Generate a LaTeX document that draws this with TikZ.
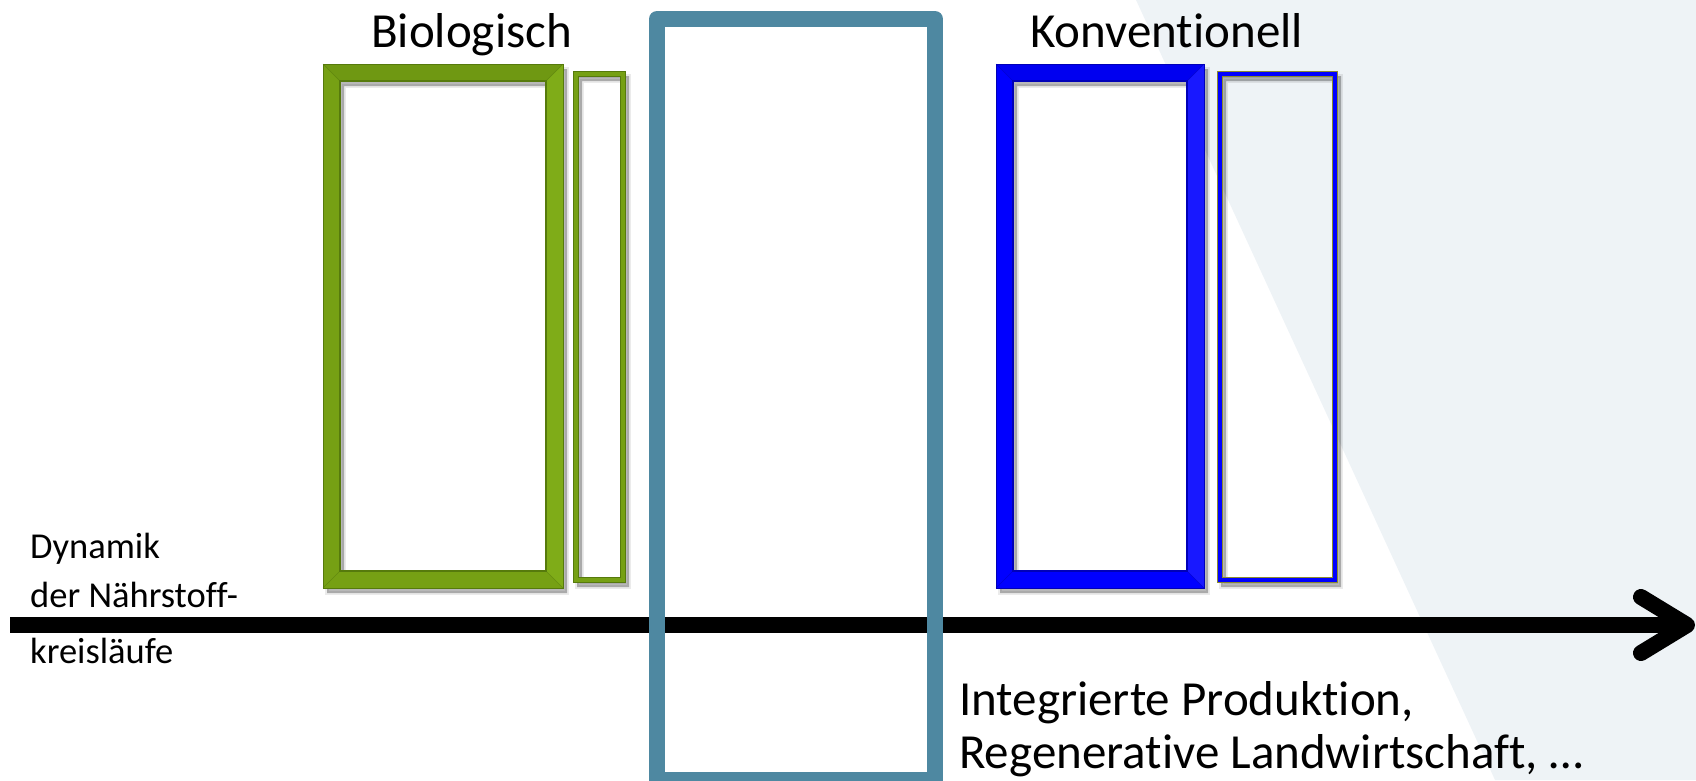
\documentclass[tikz,border=0pt]{standalone}
\usepackage{fontspec}
\setmainfont{Carlito}[Ligatures={NoCommon}]
\definecolor{bgpale}{HTML}{EEF3F6}
\definecolor{leaf}{HTML}{76A014}
\definecolor{leafdark}{HTML}{567A0C}
\definecolor{leaflight}{HTML}{86B41C}
\definecolor{royal}{HTML}{0000FF}
\definecolor{royaldark}{HTML}{0000B8}
\definecolor{royallight}{HTML}{2828FF}
\definecolor{tealframe}{HTML}{4E88A1}
\definecolor{olive}{HTML}{8A8A30}
\tikzset{
  x=1pt, y=-1pt,
  title/.style={anchor=base west, inner sep=0pt, font=\fontsize{49}{56}\selectfont},
  bottomtext/.style={anchor=base west, inner sep=0pt, font=\fontsize{49}{56}\selectfont},
  sidetext/.style={anchor=base west, inner sep=0pt, font=\fontsize{36.5}{42}\selectfont},
  shadowring/.style={fill=black, opacity=0.28, even odd rule},
  axis/.style={line width=16pt, black},
}
\begin{document}
\begin{tikzpicture}
\useasboundingbox (0,0) rectangle (1696,780);
\clip (0,0) rectangle (1696,780);
% pale background wedge
\fill[bgpale] (1136,0) -- (1696,0) -- (1696,780) -- (1495,780) -- cycle;

% ---- white interiors of the big frames
\fill[white] (340,81) rectangle (546,571);
\fill[white] (1013,81) rectangle (1187,571);

% ---- shadows
\foreach \a/\b/\c/\d/\t in {323/64/563/588/17, 573/71/625/582/5, 996/64/1204/588/17, 1217/71/1337/582/5}{
  \begin{scope}[shift={(4,5)}]
    \fill[shadowring] (\a,\b) rectangle (\c,\d) ({\a+\t},{\b+\t}) rectangle ({\c-\t},{\d-\t});
    \draw[black, opacity=0.08, line width=4pt] (\a,\b) rectangle (\c,\d);
    \draw[black, opacity=0.08, line width=4pt] ({\a+\t},{\b+\t}) rectangle ({\c-\t},{\d-\t});
  \end{scope}
}

% ---- green frames
\fill[leaf, even odd rule] (323,64) rectangle (563,588) (340,81) rectangle (546,571);
\fill[leaflight, opacity=0.6] (546,81) -- (563,64) -- (563,588) -- (546,571) -- cycle;
\fill[leafdark, opacity=0.2] (323,64) -- (563,64) -- (546,81) -- (340,81) -- cycle;
\draw[leafdark, line width=1pt] (323,64) rectangle (563,588);
\draw[leafdark, line width=1.5pt] (340,81) rectangle (546,571);
\draw[leafdark, line width=0.6pt, opacity=0.6] (323,64) -- (340,81) (563,64) -- (546,81) (323,588) -- (340,571) (563,588) -- (546,571);
\fill[leaf, even odd rule] (573,71) rectangle (625,582) (578,76) rectangle (620,577);
\draw[leafdark, line width=0.8pt] (573,71) rectangle (625,582);
\draw[leafdark, line width=0.8pt] (578,76) rectangle (620,577);

% ---- blue frames
\fill[royal, even odd rule] (996,64) rectangle (1204,588) (1013,81) rectangle (1187,571);
\fill[royallight, opacity=0.6] (1187,81) -- (1204,64) -- (1204,588) -- (1187,571) -- cycle;
\fill[royaldark, opacity=0.2] (996,64) -- (1204,64) -- (1187,81) -- (1013,81) -- cycle;
\draw[royaldark, line width=1pt] (996,64) rectangle (1204,588);
\draw[royaldark, line width=1.5pt] (1013,81) rectangle (1187,571);
\draw[royaldark, line width=0.6pt, opacity=0.6] (996,64) -- (1013,81) (1204,64) -- (1187,81) (996,588) -- (1013,571) (1204,588) -- (1187,571);
\fill[royal, even odd rule] (1217,71) rectangle (1337,582) (1222,76) rectangle (1332,577);
\draw[olive, line width=1pt] (1217,71) rectangle (1337,582);
\draw[olive, line width=1pt] (1222,76) rectangle (1332,577);

% ---- axis arrow
\coordinate (axisstart) at (10,625);
\coordinate (axistip) at (1687,625);
\coordinate (headup) at (1641,597);
\coordinate (headdown) at (1641,653);
\draw[axis, line cap=butt] (axisstart) -- (axistip);
\draw[axis, line cap=round, line join=round] (headup) -- (axistip) -- (headdown);

% ---- teal frame (in front of the axis)
\draw[tealframe, line width=16pt, line join=round] (657,19) rectangle (935,780);

% ---- texts
\node[title] (bio) at (371,47) {Biologisch};
\node[title] (konv) at (1030,47) {Konventionell};
\node[sidetext] (dyn1) at (30,558) {Dynamik};
\node[sidetext] (dyn2) at (30,607) {der Nährstoff-};
\node[sidetext] (dyn3) at (30,663) {kreisläufe};
\node[bottomtext] (int1) at (959,715) {Integrierte Produktion,};
\node[bottomtext] (int2) at (959,768) {Regenerative Landwirtschaft, \dots};
\end{tikzpicture}
\end{document}
